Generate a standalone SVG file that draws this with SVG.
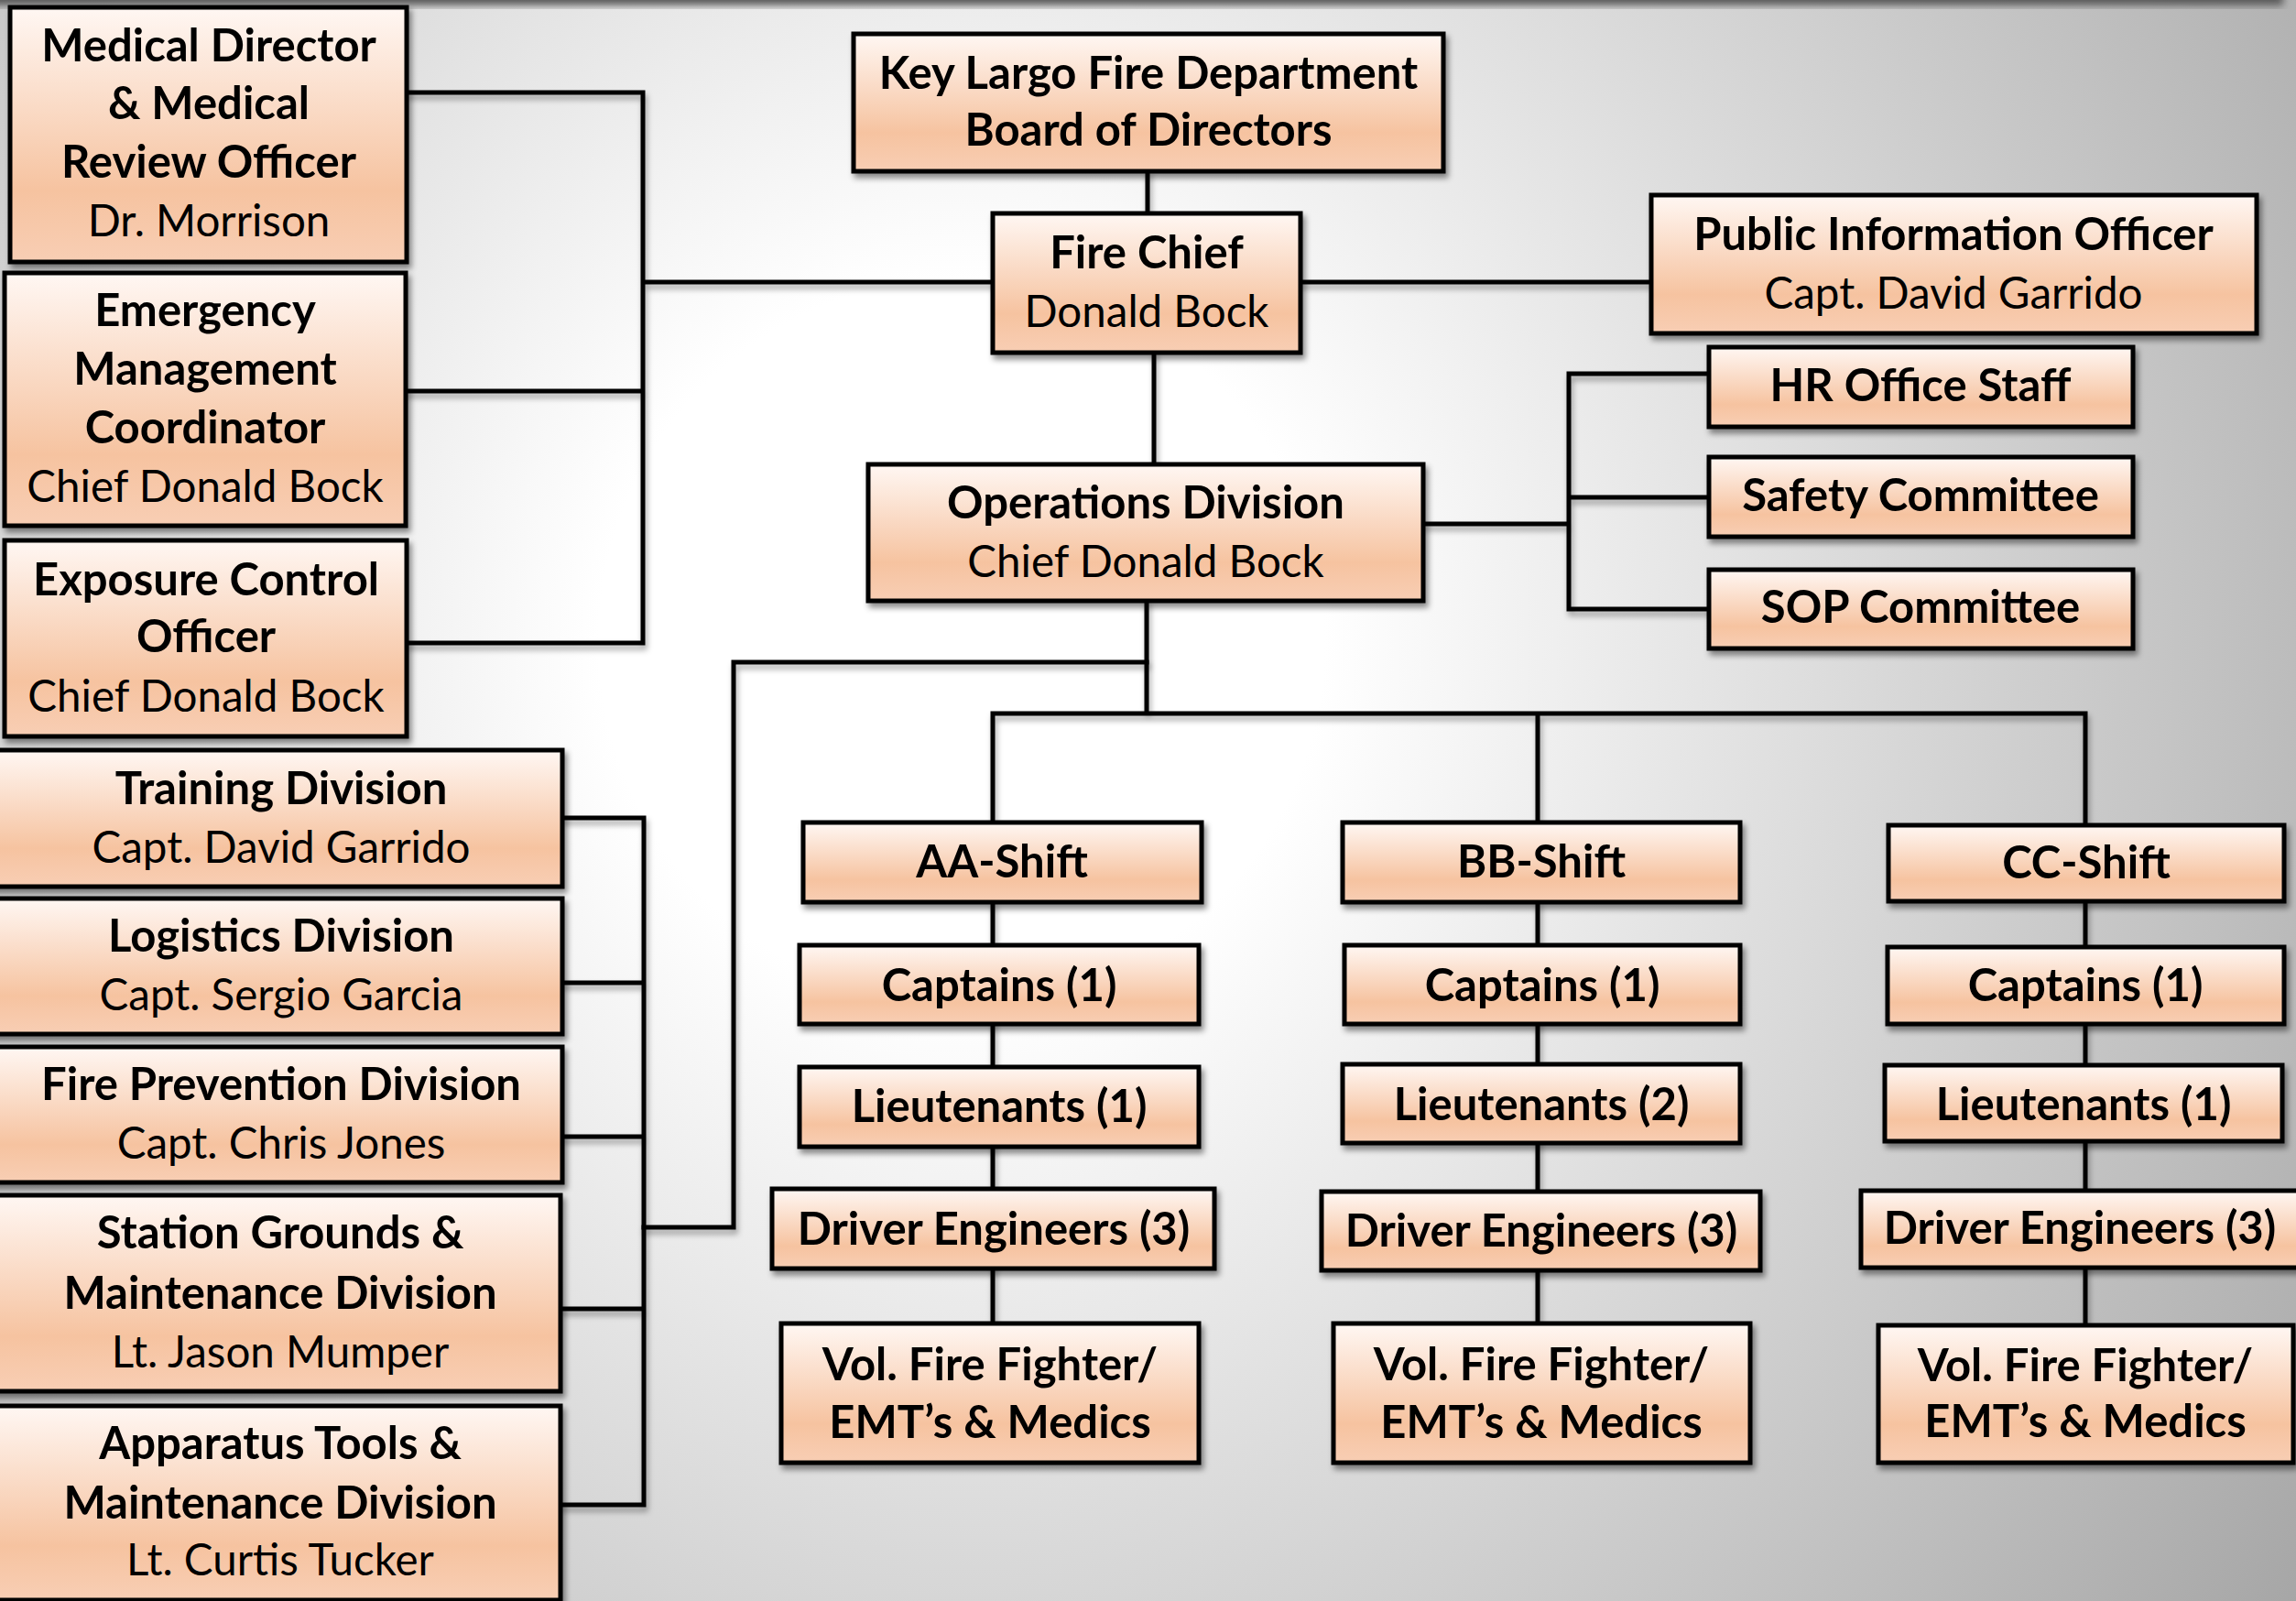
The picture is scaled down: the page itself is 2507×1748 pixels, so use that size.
<svg xmlns="http://www.w3.org/2000/svg" width="2507" height="1748" viewBox="0 0 2507 1748">
<defs>
<radialGradient id="bg" gradientUnits="userSpaceOnUse" cx="1050" cy="700" r="1800">
<stop offset="0" stop-color="#ffffff"/>
<stop offset="0.22" stop-color="#ffffff"/>
<stop offset="1" stop-color="#a6a6a6"/>
</radialGradient>
<linearGradient id="box" x1="0" y1="0" x2="0" y2="1">
<stop offset="0" stop-color="#fff7f3"/>
<stop offset="0.72" stop-color="#f6c3a0"/>
<stop offset="1" stop-color="#f8ceb4"/>
</linearGradient>
<filter id="sh" x="-10%" y="-10%" width="130%" height="140%">
<feDropShadow dx="3" dy="5" stdDeviation="3" flood-color="#000" flood-opacity="0.45"/>
</filter>
<filter id="lsh" filterUnits="userSpaceOnUse" x="0" y="0" width="2507" height="1748">
<feDropShadow dx="2" dy="5" stdDeviation="3" flood-color="#000" flood-opacity="0.35"/>
</filter>
<filter id="blur"><feGaussianBlur stdDeviation="4"/></filter>
</defs>
<style>
.b{fill:url(#box);stroke:#000;stroke-width:5;filter:url(#sh)}
.c{fill:none;stroke:#000;stroke-width:5;stroke-linecap:square;filter:url(#lsh)}
text{font-family:Lato,"Liberation Sans",sans-serif;font-size:49px;fill:#000;text-anchor:middle}
.t{font-weight:700}
.n{font-weight:400;font-size:47.5px}
</style>
<rect x="0" y="0" width="2507" height="1748" fill="url(#bg)"/>
<rect x="-20" y="-30" width="2513" height="36" fill="#5a5a5a" filter="url(#blur)"/>
<g id="connectors">
<path class="c" d="M1253 187V233"/>
<path class="c" d="M444 101H702V702H444M443 427H702M702 308H1084"/>
<path class="c" d="M1420 308H1803"/>
<path class="c" d="M1260 385V507"/>
<path class="c" d="M1554 572H1713M1866 408H1713V665H1866M1713 543H1866"/>
<path class="c" d="M1252 656V779M1084 898V779H2277V901M1679 779V898"/>
<path class="c" d="M1252 723H801V1340H703"/>
<path class="c" d="M614 893H703V1643H612M614 1073H703M614 1241H703M612 1429H703"/>
<path class="c" d="M1084 985V1445"/>
<path class="c" d="M1679 985V1445"/>
<path class="c" d="M2277 984V1447"/>
</g>
<g id="board"><rect class="b" x="932" y="37" width="644" height="150"/><text class="t" x="1254" y="97">Key Largo Fire Department</text><text class="t" x="1254" y="159">Board of Directors</text></g>
<g id="chief"><rect class="b" x="1084" y="233" width="336" height="152"/><text class="t" x="1252" y="293">Fire Chief</text><text class="n" x="1252" y="357">Donald Bock</text></g>
<g id="pio"><rect class="b" x="1803" y="213" width="661" height="151"/><text class="t" x="2133" y="273">Public Information Officer</text><text class="n" x="2133" y="337">Capt. David Garrido</text></g>
<g id="hr"><rect class="b" x="1866" y="379" width="463" height="87"/><text class="t" x="2097" y="438">HR Office Staff</text></g>
<g id="safety"><rect class="b" x="1866" y="499" width="463" height="87"/><text class="t" x="2097" y="558">Safety Committee</text></g>
<g id="sop"><rect class="b" x="1866" y="622" width="463" height="86"/><text class="t" x="2097" y="680">SOP Committee</text></g>
<g id="ops"><rect class="b" x="948" y="507" width="606" height="149"/><text class="t" x="1251" y="566">Operations Division</text><text class="n" x="1251" y="630">Chief Donald Bock</text></g>
<g id="medical"><rect class="b" x="11" y="8" width="433" height="278"/><text class="t" x="228" y="67">Medical Director</text><text class="t" x="228" y="130">&amp; Medical</text><text class="t" x="228" y="194">Review Officer</text><text class="n" x="228" y="258">Dr. Morrison</text></g>
<g id="emergency"><rect class="b" x="5" y="298" width="438" height="276"/><text class="t" x="224" y="356">Emergency</text><text class="t" x="224" y="420">Management</text><text class="t" x="224" y="484">Coordinator</text><text class="n" x="224" y="548">Chief Donald Bock</text></g>
<g id="exposure"><rect class="b" x="5" y="590" width="439" height="214"/><text class="t" x="225" y="650">Exposure Control</text><text class="t" x="225" y="712">Officer</text><text class="n" x="225" y="777">Chief Donald Bock</text></g>
<g id="training"><rect class="b" x="-8" y="819" width="622" height="149"/><text class="t" x="307" y="878">Training Division</text><text class="n" x="307" y="942">Capt. David Garrido</text></g>
<g id="logistics"><rect class="b" x="-8" y="981" width="622" height="148"/><text class="t" x="307" y="1039">Logistics Division</text><text class="n" x="307" y="1103">Capt. Sergio Garcia</text></g>
<g id="fireprev"><rect class="b" x="-8" y="1143" width="622" height="148"/><text class="t" x="307" y="1201">Fire Prevention Division</text><text class="n" x="307" y="1265">Capt. Chris Jones</text></g>
<g id="station"><rect class="b" x="-8" y="1305" width="620" height="214"/><text class="t" x="306" y="1363">Station Grounds &amp;</text><text class="t" x="306" y="1429">Maintenance Division</text><text class="n" x="306" y="1493">Lt. Jason Mumper</text></g>
<g id="apparatus"><rect class="b" x="-8" y="1535" width="620" height="212"/><text class="t" x="306" y="1593">Apparatus Tools &amp;</text><text class="t" x="306" y="1658">Maintenance Division</text><text class="n" x="306" y="1720">Lt. Curtis Tucker</text></g>
<g id="aa"><rect class="b" x="877" y="898" width="435" height="87"/><text class="t" x="1094" y="958">AA-Shift</text></g>
<g id="bb"><rect class="b" x="1466" y="898" width="434" height="87"/><text class="t" x="1683" y="958">BB-Shift</text></g>
<g id="cc"><rect class="b" x="2062" y="901" width="432" height="83"/><text class="t" x="2278" y="959">CC-Shift</text></g>
<g id="capA"><rect class="b" x="873" y="1032" width="436" height="86"/><text class="t" x="1091" y="1093">Captains (1)</text></g>
<g id="capB"><rect class="b" x="1468" y="1032" width="432" height="86"/><text class="t" x="1684" y="1093">Captains (1)</text></g>
<g id="capC"><rect class="b" x="2061" y="1034" width="433" height="84"/><text class="t" x="2277" y="1093">Captains (1)</text></g>
<g id="ltA"><rect class="b" x="873" y="1165" width="436" height="87"/><text class="t" x="1091" y="1225">Lieutenants (1)</text></g>
<g id="ltB"><rect class="b" x="1466" y="1162" width="434" height="86"/><text class="t" x="1683" y="1223">Lieutenants (2)</text></g>
<g id="ltC"><rect class="b" x="2058" y="1163" width="434" height="83"/><text class="t" x="2275" y="1223">Lieutenants (1)</text></g>
<g id="drA"><rect class="b" x="843" y="1298" width="483" height="87"/><text class="t" x="1085" y="1359">Driver Engineers (3)</text></g>
<g id="drB"><rect class="b" x="1443" y="1301" width="479" height="86"/><text class="t" x="1683" y="1361">Driver Engineers (3)</text></g>
<g id="drC"><rect class="b" x="2032" y="1300" width="480" height="84"/><text class="t" x="2271" y="1358">Driver Engineers (3)</text></g>
<g id="volA"><rect class="b" x="853" y="1445" width="456" height="152"/><text class="t" x="1081" y="1507">Vol. Fire Fighter/</text><text class="t" x="1081" y="1570">EMT’s &amp; Medics</text></g>
<g id="volB"><rect class="b" x="1456" y="1445" width="455" height="152"/><text class="t" x="1683" y="1507">Vol. Fire Fighter/</text><text class="t" x="1683" y="1570">EMT’s &amp; Medics</text></g>
<g id="volC"><rect class="b" x="2051" y="1447" width="453" height="150"/><text class="t" x="2277" y="1508">Vol. Fire Fighter/</text><text class="t" x="2277" y="1569">EMT’s &amp; Medics</text></g>
</svg>
